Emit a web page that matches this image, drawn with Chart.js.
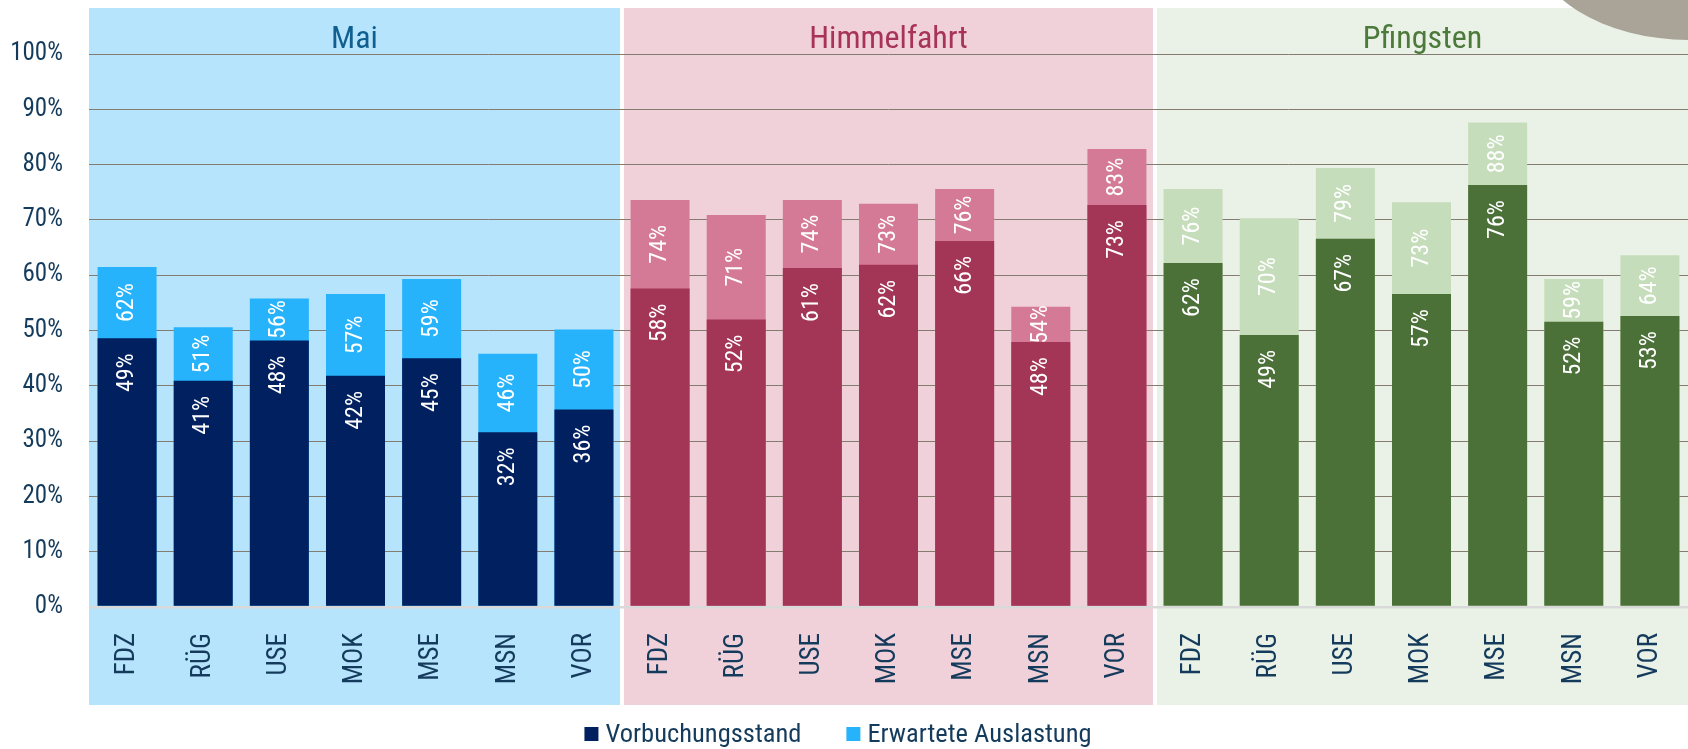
<!DOCTYPE html>
<html><head><meta charset="utf-8">
<script src="https://cdn.jsdelivr.net/npm/chart.js@4.4.0/dist/chart.umd.min.js"></script>
<style>html,body{margin:0;padding:0;background:#fff;overflow:hidden}#wrap{width:1688px;height:749px;position:relative}</style>
</head><body><div id="wrap"><canvas id="c"></canvas></div>
<script>
// ---- data ----
const groups = ['Mai', 'Himmelfahrt', 'Pfingsten'];
const sites = ['FDZ', 'RÜG', 'USE', 'MOK', 'MSE', 'MSN', 'VOR'];
const seriesNames = ['Vorbuchungsstand', 'Erwartete Auslastung'];
const vorbuchungMai = [48.6, 40.9, 48.2, 41.8, 45.0, 31.6, 35.7];
const erwartetMai = [61.5, 50.6, 55.8, 56.6, 59.3, 45.8, 50.2];
const vorbuchungHimmelfahrt = [57.6, 52.0, 61.3, 61.9, 66.2, 47.9, 72.7];
const erwartetHimmelfahrt = [73.6, 70.9, 73.6, 72.9, 75.6, 54.3, 82.8];
const vorbuchungPfingsten = [62.2, 49.2, 66.6, 56.6, 76.3, 51.6, 52.6];
const erwartetPfingsten = [75.6, 70.3, 79.4, 73.2, 87.6, 59.3, 63.6];
const yTickValues = [0, 10, 20, 30, 40, 50, 60, 70, 80, 90, 100];

// ---- styles ----
const FONT = "'Roboto Condensed','Liberation Sans Narrow','Arial Narrow','DejaVu Sans Condensed',sans-serif";
const TEXT = '#153b5c';
const darkCol = ['#00205f', '#a33557', '#4b7038'];
const lightCol = ['#27b3fb', '#d47a96', '#c5ddbb'];
const panelCol = ['#b6e4fc', '#f0d1da', '#eaf2e7'];
const titleCol = ['#0f5f90', '#a7325a', '#4b7a3a'];

const labels = [];
groups.forEach(() => sites.forEach(s => labels.push(s)));
const vorbuchung = [...vorbuchungMai, ...vorbuchungHimmelfahrt, ...vorbuchungPfingsten];
const erwartet = [...erwartetMai, ...erwartetHimmelfahrt, ...erwartetPfingsten];
const n = sites.length;
const byGroup = arr => labels.map((_, i) => arr[Math.floor(i / n)]);

const panelsPlugin = {
  id: 'panels',
  beforeDraw(chart) {
    const ctx = chart.ctx, x = chart.scales.x;
    const half = (x.getPixelForValue(1) - x.getPixelForValue(0)) / 2;
    ctx.save();
    groups.forEach((g, gi) => {
      let l = x.getPixelForValue(gi * n) - half;
      let r = x.getPixelForValue(gi * n + n - 1) + half;
      if (gi > 0) l += 2;
      if (gi < groups.length - 1) r -= 2;
      ctx.fillStyle = panelCol[gi];
      ctx.fillRect(l, 8, r - l, 697);
      ctx.fillStyle = titleCol[gi];
      ctx.font = '32px ' + FONT;
      ctx.textAlign = 'center';
      ctx.textBaseline = 'alphabetic';
      ctx.fillText(g, (l + r) / 2, 48);
    });
    // decorative ellipse top right
    ctx.fillStyle = '#aaa398';
    ctx.beginPath();
    ctx.ellipse(1690, -60, 159, 100, 0, 0, Math.PI * 2);
    ctx.fill();
    ctx.restore();
  },
  afterDatasetsDraw(chart) {
    const ctx = chart.ctx;
    const darkMeta = chart.getDatasetMeta(0);
    const lightMeta = chart.getDatasetMeta(1);
    const draw = (txt, x, y, align) => {
      ctx.save();
      ctx.translate(x, y);
      ctx.rotate(-Math.PI / 2);
      ctx.textAlign = align;
      ctx.fillText(txt, 0, 0);
      ctx.restore();
    };
    ctx.save();
    ctx.fillStyle = '#ffffff';
    ctx.font = '24px ' + FONT;
    ctx.textBaseline = 'middle';
    darkMeta.data.forEach((bar, i) => {
      draw(Math.round(chart.data.datasets[0].data[i]) + '%', bar.x, bar.y + 15, 'right');
    });
    lightMeta.data.forEach((bar, i) => {
      const bottom = darkMeta.data[i].y;
      draw(Math.round(chart.data.datasets[1].data[i]) + '%', bar.x, (bar.y + bottom) / 2, 'center');
    });
    ctx.restore();
  },
  afterDraw(chart) {
    const ctx = chart.ctx;
    ctx.save();
    ctx.font = '26.5px ' + FONT;
    ctx.textBaseline = 'middle';
    ctx.textAlign = 'left';
    const box = 14, gap = 7, itemGap = 45;
    const w = seriesNames.map(s => ctx.measureText(s).width);
    const total = box + gap + w[0] + itemGap + box + gap + w[1];
    let x0 = 838 - total / 2;
    const yc = 734;
    const cols = [darkCol[0], lightCol[0]];
    seriesNames.forEach((s, i) => {
      ctx.fillStyle = cols[i];
      ctx.fillRect(x0, yc - box / 2, box, box);
      ctx.fillStyle = TEXT;
      ctx.fillText(s, x0 + box + gap, yc + 1);
      x0 += box + gap + w[i] + itemGap;
    });
    ctx.restore();
  }
};

new Chart(document.getElementById('c'), {
  type: 'bar',
  data: {
    labels,
    datasets: [
      { label: seriesNames[0], data: vorbuchung, backgroundColor: byGroup(darkCol), grouped: false, barPercentage: 0.775, categoryPercentage: 1, order: 0 },
      { label: seriesNames[1], data: erwartet, backgroundColor: byGroup(lightCol), grouped: false, barPercentage: 0.775, categoryPercentage: 1, order: 1 }
    ]
  },
  options: {
    responsive: true,
    maintainAspectRatio: false,
    animation: false,
    layout: { padding: { top: 54, right: 0, bottom: 44, left: 0 } },
    plugins: { legend: { display: false }, tooltip: { enabled: false } },
    scales: {
      x: {
        grid: { display: false },
        border: { display: false },
        ticks: { minRotation: 90, maxRotation: 90, autoSkip: false, padding: 18, color: TEXT, font: { family: FONT, size: 27 } },
        afterFit(s) { s.height = 98; s.paddingLeft = 0; s.paddingRight = 0; }
      },
      y: {
        min: 0, max: 100,
        afterBuildTicks(s) { s.ticks = yTickValues.map(v => ({ value: v })); },
        ticks: { callback: v => v + '%', padding: 26, color: TEXT, font: { family: FONT, size: 25 } },
        grid: {
          drawTicks: false,
          color: c => c.tick && c.tick.value === 0 ? '#d9d9d9' : '#857c70',
          lineWidth: c => c.tick && c.tick.value === 0 ? 2.5 : 1
        },
        border: { display: false },
        afterFit(s) { s.width = 89; s.paddingTop = 0; s.paddingBottom = 0; }
      }
    }
  },
  plugins: [panelsPlugin]
});
</script></body></html>
